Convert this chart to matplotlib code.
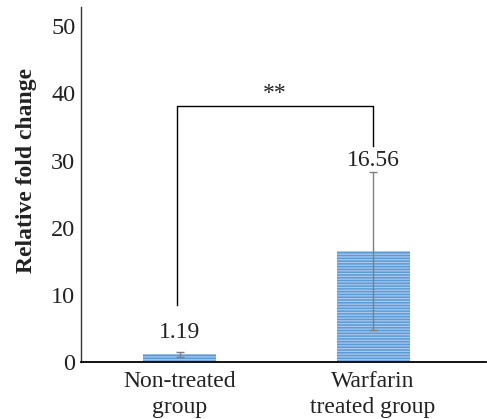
import matplotlib
matplotlib.use("Agg")
import matplotlib.pyplot as plt

categories = ["Non-treated\ngroup", "Warfarin\ntreated group"]
values = [1.19, 16.56]
err_low = [0.44, 11.7]
err_high = [0.31, 11.7]
value_labels = ["1.19", "16.56"]
yticks = [0, 10, 20, 30, 40, 50]
sig_text = "**"

plt.rcParams['font.family'] = ['Liberation Serif', 'DejaVu Serif']
plt.rcParams['hatch.linewidth'] = 0.9
plt.rcParams['hatch.color'] = '#A8C8EE'

fig = plt.figure(figsize=(4.87, 4.19), dpi=100)
ax = fig.add_axes([0.166, 0.135, 0.832, 0.848])

x = [0, 1]
ax.bar(x, values, width=0.378, color='#5B9BD5', edgecolor='#A8C8EE',
       linewidth=0, hatch='------', zorder=2)
ax.errorbar(x, values, yerr=[err_low, err_high], fmt='none', ecolor='#7F7F7F',
            elinewidth=1.0, capsize=3, capthick=1.0, zorder=3)

for xi, lab, ypos in zip(x, value_labels, [4.4, 30.0]):
    ax.text(xi, ypos, lab, ha='center', va='center', fontsize=17, color='#222222')

# significance bracket
ax.plot([-0.016, -0.016, 1.0, 1.0], [8.5, 38.1, 38.1, 32.1], color='black', lw=1.0, zorder=4)
ax.text(0.492, 40.0, sig_text, ha='center', va='center', fontsize=17, color='#222222')

ax.set_xlim(-0.513, 1.585)
ax.set_ylim(0, 52.8)
ax.set_yticks(yticks)
ax.set_xticks(x)
ax.set_xticklabels(categories, fontsize=17, linespacing=1.3)
ax.tick_params(axis='y', length=0, pad=4, labelsize=17.5, labelcolor='#222222')
ax.tick_params(axis='x', length=0, pad=6, labelcolor='#222222')
for s in ['top', 'right']:
    ax.spines[s].set_visible(False)
ax.spines['left'].set_color('#333333')
ax.spines['bottom'].set_color('black')
ax.spines['bottom'].set_linewidth(1.3)
ax.spines['left'].set_linewidth(1.0)

ax.set_ylabel("Relative fold change", fontsize=17, fontweight='bold', color='#222222')
ax.yaxis.set_label_coords(-0.108, 0.54)

fig.savefig("out.png", dpi=100)
